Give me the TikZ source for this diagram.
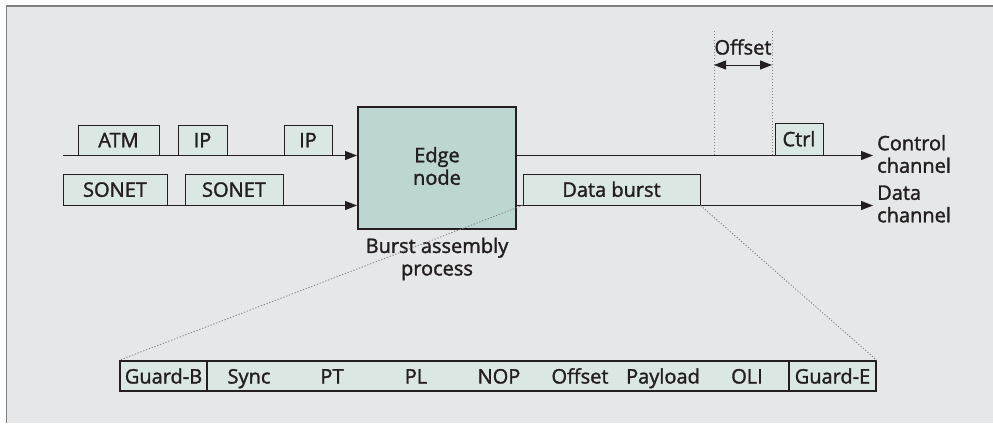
\documentclass[tikz,border=0pt]{standalone}
\usepackage{fontspec}
\setmainfont{Open Sans}[FakeBold=1.6]
\usetikzlibrary{arrows.meta}
\definecolor{bggray}{HTML}{E6E7E8}
\definecolor{framegray}{HTML}{808080}
\definecolor{pktfill}{HTML}{DAE7E3}
\definecolor{edgefill}{HTML}{BCD6D2}
\definecolor{inkcol}{HTML}{231F20}
\tikzset{
  pkt/.style={draw=inkcol, line width=1pt, fill=pktfill, inner sep=0pt,
    minimum height=30pt, text=inkcol, text height=14.5pt, text depth=0pt,
    font=\fontsize{20}{22.5}\selectfont},
  lbl/.style={text=inkcol, font=\fontsize{20}{22.5}\selectfont, inner sep=0pt, align=center},
  chan/.style={draw=inkcol, line width=1pt, -{Triangle[length=12pt,width=9pt]}},
  guide/.style={draw=gray, line width=0.8pt, dash pattern=on 1.3pt off 1.7pt},
}
\begin{document}
\begin{tikzpicture}[x=1pt,y=-1pt]
  % canvas and frame
  \useasboundingbox (0,0) rectangle (993,423);
  \fill[white] (0,0) rectangle (993,423);
  \fill[bggray] (6,5.5) rectangle (993,423);
  \draw[framegray, line width=1.6pt] (6.5,423) -- (6.5,6) -- (993,6);

  % edge node
  \node[draw=inkcol, line width=2pt, fill=edgefill, minimum width=158pt,
        minimum height=122pt, inner sep=0pt] (edge) at (437,168) {};
  \node[lbl] (edgetxt) at (437,166) {Edge\\node};
  \node[lbl] (bap) at (437,259) {Burst assembly\\process};

  % input channels
  \coordinate (cin) at (63,155.5);
  \coordinate (din) at (63,205.5);
  \draw[chan] (cin) -- (cin -| edge.west);
  \draw[chan] (din) -- (din -| edge.west);

  % input packets
  \node[pkt, minimum width=81pt, anchor=south] (atm) at (118.5,155.5) {ATM};
  \node[pkt, minimum width=49pt, anchor=south] (ip1) at (202.5,155.5) {IP};
  \node[pkt, minimum width=48pt, anchor=south] (ip2) at (308,155.5) {IP};
  \node[pkt, minimum width=104pt, minimum height=31pt, anchor=south] (so1) at (115,205.5) {SONET};
  \node[pkt, minimum width=98pt, minimum height=31pt, anchor=south] (so2) at (234,205.5) {SONET};

  % output channels
  \coordinate (cout) at (873,155.5);
  \coordinate (dout) at (873,205.5);
  \draw[chan] (cout -| edge.east) -- (cout);
  \draw[chan] (dout -| edge.east) -- (dout);
  \node[lbl, align=left, anchor=west] (ctlname) at (877,154) {Control\\channel};
  \node[lbl, align=left, anchor=west] (datname) at (877,204) {Data\\channel};

  % offset between control packet and burst
  \coordinate (oa) at (714,31);
  \coordinate (ob) at (772,31);
  \coordinate (oaa) at (714,65);
  \coordinate (obb) at (772,65);
  \draw[guide] (oa) -- (oa |- cout);
  \draw[guide] (ob) -- (ob |- cout);
  \draw[draw=inkcol, line width=1pt, {Triangle[length=12pt,width=9pt]}-{Triangle[length=12pt,width=9pt]}]
    (oaa) -- (obb);
  \node[lbl] (offlbl) at (743,47) {Offset};

  % output packets
  \node[pkt, minimum width=48pt, minimum height=32pt, anchor=south] (ctrl) at (799,155.5) {Ctrl};
  \node[pkt, minimum width=177pt, minimum height=31pt, anchor=south] (burst) at (611.5,205.5) {Data burst};

  % burst format
  \node[pkt, line width=1.5pt, minimum width=756pt, minimum height=30pt] (fmt) at (498,376) {};
  \draw[inkcol, line width=1.2pt] (207,361) -- (207,391);
  \draw[inkcol, line width=1.2pt] (789,361) -- (789,391);
  \begin{scope}[every node/.append style={lbl, anchor=base}]
    \node (gb) at (163.5,383.5) {Guard-B};
    \node (f1) at (249,383.5) {Sync};
    \node (f2) at (332,383.5) {PT};
    \node (f3) at (416,383.5) {PL};
    \node (f4) at (499,383.5) {NOP};
    \node (f5) at (580,383.5) {Offset};
    \node (f6) at (663,383.5) {Payload};
    \node (f7) at (747,383.5) {OLI};
    \node (ge) at (832.5,383.5) {Guard-E};
  \end{scope}

  % zoom guides from the burst to its format
  \draw[guide] (burst.south west) -- (fmt.north west);
  \draw[guide] (burst.south east) -- (fmt.north east);
\end{tikzpicture}
\end{document}
